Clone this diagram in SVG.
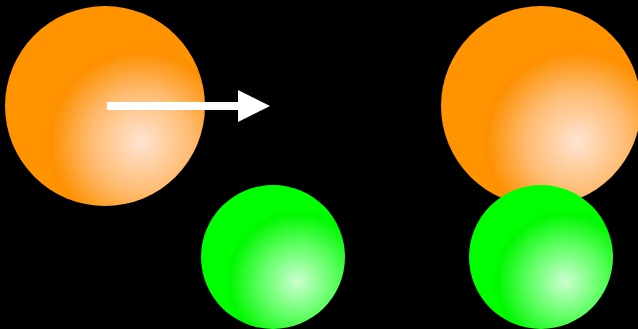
<svg xmlns="http://www.w3.org/2000/svg" width="638" height="329" viewBox="0 0 638 329">
  <defs>
    <radialGradient id="orangeGlow" cx="0.68" cy="0.68" r="0.5" fx="0.68" fy="0.68">
      <stop offset="0" stop-color="#ffe4d2"/>
      <stop offset="0.5" stop-color="#ffbc72"/>
      <stop offset="0.9" stop-color="#fd9000"/>
      <stop offset="1" stop-color="#ff9400"/>
    </radialGradient>
    <radialGradient id="greenGlow" cx="0.67" cy="0.67" r="0.52" fx="0.67" fy="0.67">
      <stop offset="0" stop-color="#ccffd0"/>
      <stop offset="0.5" stop-color="#5cff60"/>
      <stop offset="0.9" stop-color="#00f800"/>
      <stop offset="1" stop-color="#00ff00"/>
    </radialGradient>
    <marker id="arrowHead" markerUnits="userSpaceOnUse" markerWidth="32" markerHeight="32" refX="2" refY="16" orient="auto">
      <path d="M0,0 L32,16 L0,32 Z" fill="#ffffff"/>
    </marker>
  </defs>
  <style>
    .orange { fill: url(#orangeGlow); }
    .green { fill: url(#greenGlow); }
    .arrow { stroke: #ffffff; stroke-width: 8; fill: none; }
  </style>

  <rect x="0" y="0" width="638" height="329" fill="#000000"/>

  <g id="orange-ball-start">
    <circle class="orange" cx="105" cy="106" r="100"/>
  </g>
  <g id="green-ball-start">
    <circle class="green" cx="273" cy="257" r="72"/>
  </g>
  <g id="orange-ball-end">
    <circle class="orange" cx="541" cy="106" r="100"/>
  </g>
  <g id="green-ball-end">
    <circle class="green" cx="541" cy="257" r="72"/>
  </g>

  <g id="connectors">
    <line class="arrow" x1="107" y1="106" x2="240" y2="106" marker-end="url(#arrowHead)"/>
  </g>
</svg>
